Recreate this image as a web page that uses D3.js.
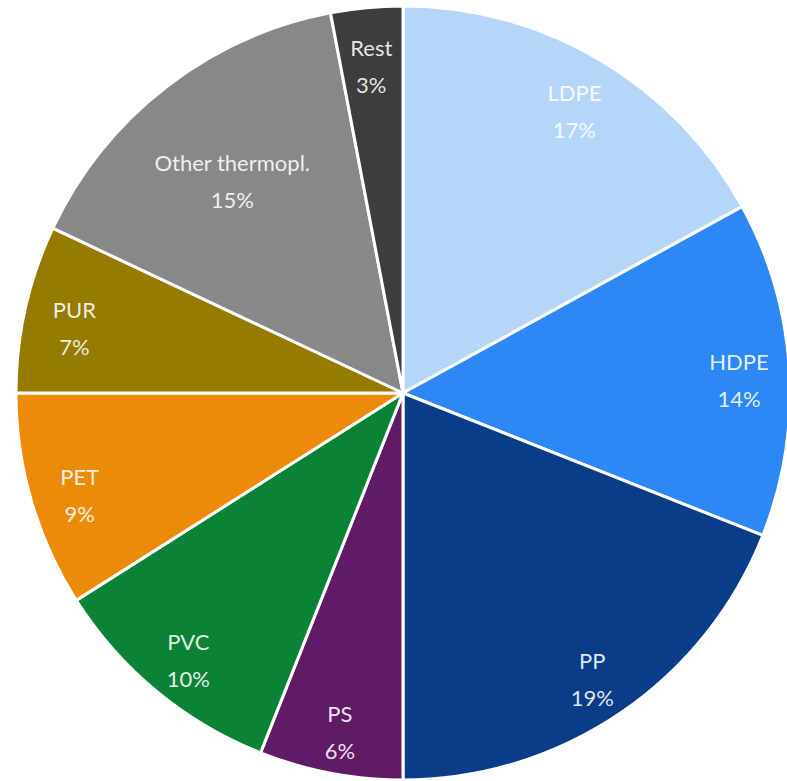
<!DOCTYPE html>
<html>
<head>
<meta charset="utf-8">
<script src="https://d3js.org/d3.v7.min.js"></script>
<style>
  body { margin: 0; background: #fff; }
  text { font-family: Lato, "Open Sans", sans-serif; }
</style>
</head>
<body>
<div id="chart"></div>
<script>
const categories = ['LDPE', 'HDPE', 'PP', 'PS', 'PVC', 'PET', 'PUR', 'Other thermopl.', 'Rest'];
const shares = [17, 14, 19, 6, 10, 9, 7, 15, 3];
const colors = ['#b5d5f9', '#2d88f5', '#0a3c88', '#5f1b66', '#0b8236', '#ec8a0a', '#957b00', '#888888', '#3d3d3d'];

const width = 787,
  height = 781,
  radius = 387;

const data = categories.map(function (c, i) {
  return { name: c, value: shares[i], color: colors[i] };
});

//SVG container
const svg = d3.select('#chart')
  .append('svg')
  .attr('width', width)
  .attr('height', height)
  .append('g')
  .attr('transform', 'translate(403,393)');

const pie = d3.pie()
  .sort(null)
  .value(function (d) { return d.value; });

const arc = d3.arc()
  .innerRadius(0)
  .outerRadius(radius);

const arcs = pie(data);

svg.selectAll('.slice')
  .data(arcs)
  .enter().append('path')
  .attr('class', 'slice')
  .attr('d', arc)
  .style('fill', function (d) { return d.data.color; })
  .style('stroke', '#fff')
  .style('stroke-width', 3);

//long labels sit further in
function labelArc(d) {
  const r = d.data.name.length > 10 ? radius * 0.72 : radius * 0.87;
  return d3.arc().innerRadius(r).outerRadius(r).centroid(d);
}

const labels = svg.selectAll('.label')
  .data(arcs)
  .enter().append('text')
  .attr('class', 'label')
  .attr('text-anchor', 'middle')
  .attr('transform', function (d) {
    return 'translate(' + labelArc(d) + ')';
  })
  .style('fill', '#fff')
  .style('fill-opacity', 0.88)
  .style('font-size', '22px');

labels.append('tspan')
  .attr('x', 0)
  .attr('y', -2)
  .text(function (d) { return d.data.name; });

labels.append('tspan')
  .attr('x', 0)
  .attr('y', 35)
  .text(function (d) { return d.data.value + '%'; });
</script>
</body>
</html>
